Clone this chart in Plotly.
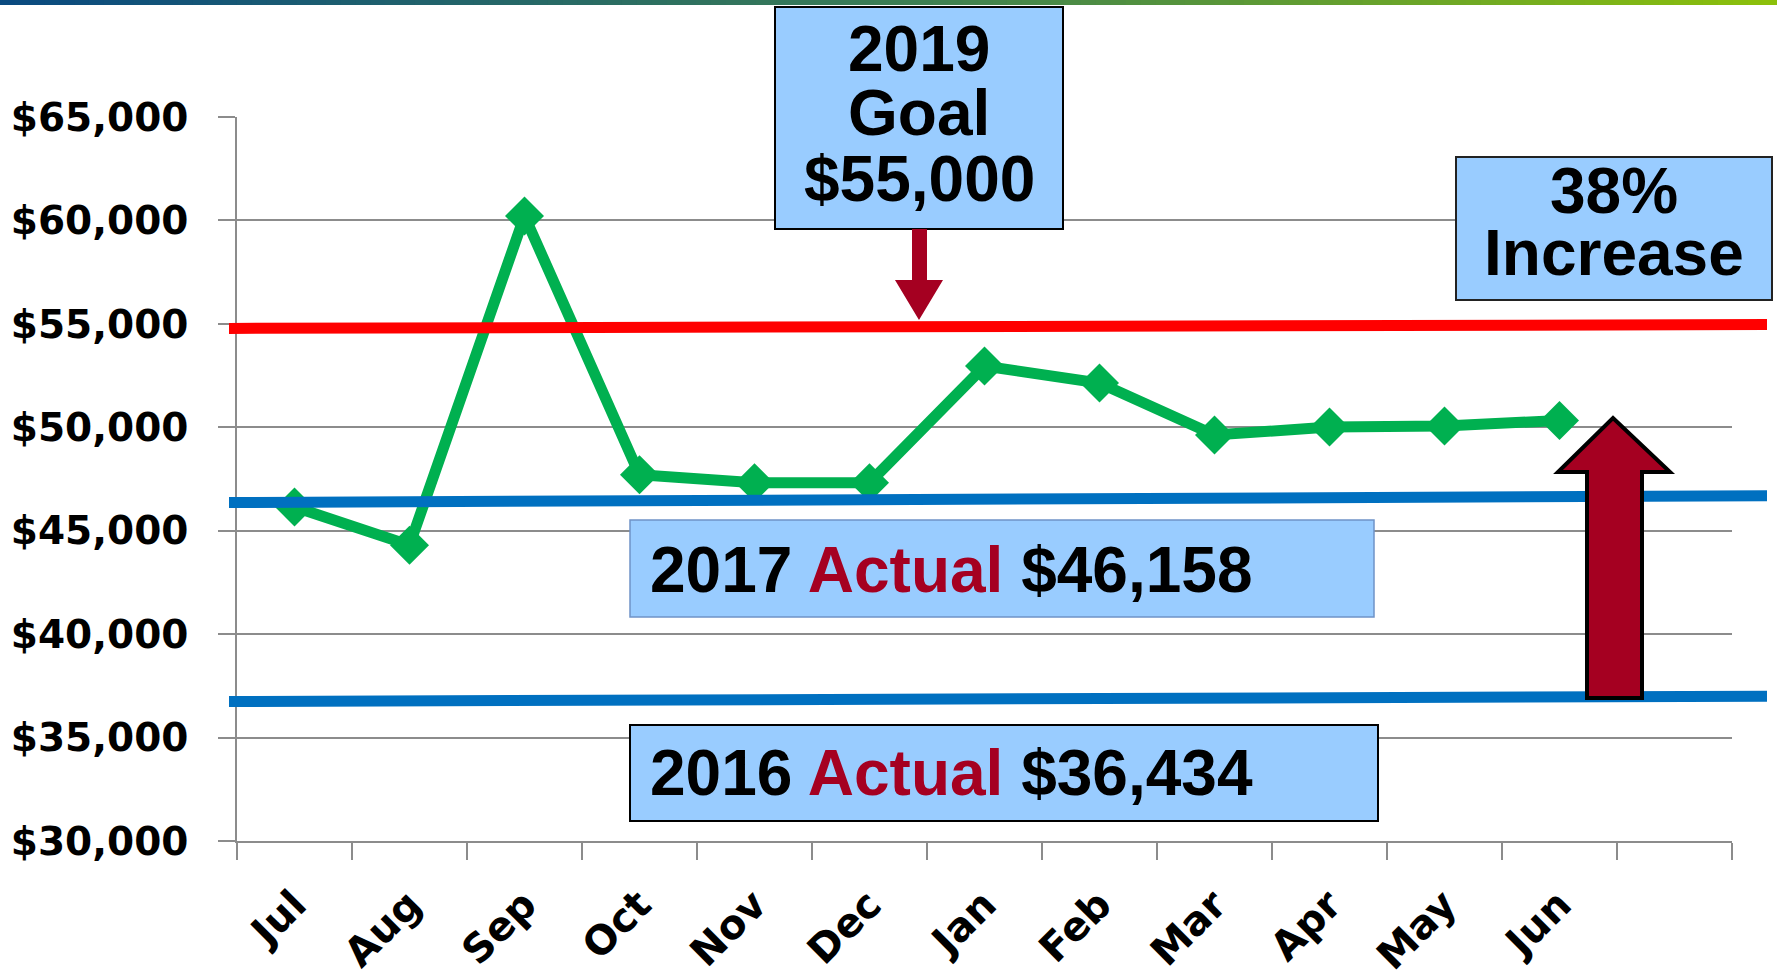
import plotly.graph_objects as go

# ---------------- data ----------------
months = ["Jul", "Aug", "Sep", "Oct", "Nov", "Dec", "Jan", "Feb", "Mar", "Apr", "May", "Jun"]
categories = months + [" "]
monthly_values = [46150, 44300, 60220, 47700, 47320, 47320, 52960, 52140, 49630, 50010, 50060, 50330]

ytick_vals = [30000, 35000, 40000, 45000, 50000, 55000, 60000, 65000]
ytick_text = ["$30,000", "$35,000", "$40,000", "$45,000", "$50,000", "$55,000", "$60,000", "$65,000"]

goal_line = [54780, 54965]        # 2019 goal reference line (left, right)
actual_2017_line = [46364, 46693]  # 2017 actual reference line
actual_2016_line = [36744, 36995]  # 2016 actual reference line

# ---------------- layout geometry ----------------
W, H = 1777, 978
L, R, T, B = 237, 45, 117, 137
PW, PH = W - L - R, H - T - B


def px(xp):
    return (xp - L) / PW


def py(yp):
    return (H - B - yp) / PH


GRID = "#8C8C8C"
DARKRED = "#A50021"
BOXFILL = "#99CCFF"

fig = go.Figure()

fig.add_trace(go.Scatter(
    x=months, y=monthly_values, mode="lines+markers",
    line=dict(color="#00B050", width=11),
    marker=dict(symbol="diamond", size=30, color="#00B050"),
    hoverinfo="x+y", showlegend=False,
))

shapes = []

# top gradient bar
stops = [(0.0, (10, 74, 128)), (0.5, (58, 125, 85)), (1.0, (140, 192, 10))]


def grad(t):
    for (t0, c0), (t1, c1) in zip(stops[:-1], stops[1:]):
        if t0 <= t <= t1:
            f = (t - t0) / (t1 - t0)
            return "rgb(%d,%d,%d)" % tuple(round(a + (b - a) * f) for a, b in zip(c0, c1))
    return "rgb(%d,%d,%d)" % stops[-1][1]


NSEG = 120
for i in range(NSEG):
    x0 = W * i / NSEG
    x1 = W * (i + 1) / NSEG + 1
    shapes.append(dict(type="rect", xref="paper", yref="paper",
                       x0=px(x0), x1=px(x1), y0=py(5), y1=py(0),
                       fillcolor=grad(i / (NSEG - 1)), line=dict(width=0), layer="above"))

# reference lines
for vals, col in [(goal_line, "#FF0000"), (actual_2017_line, "#0070C0"), (actual_2016_line, "#0070C0")]:
    shapes.append(dict(type="line", xref="paper", yref="y",
                       x0=px(229), x1=px(1767), y0=vals[0], y1=vals[1],
                       line=dict(color=col, width=11), layer="above"))


def box(x0, y0, x1, y1, border, bw):
    shapes.append(dict(type="rect", xref="paper", yref="paper",
                       x0=px(x0), x1=px(x1), y0=py(y1), y1=py(y0),
                       fillcolor=BOXFILL, line=dict(color=border, width=bw), layer="above"))


box(775, 7, 1063, 229, "#000000", 2)
box(1456, 157, 1772, 300, "#222222", 2)
box(630, 520, 1374, 617, "#6F93C8", 1.5)
box(630, 725, 1378, 821, "#000000", 2)


def poly(points, fill, lw, lc):
    path = "M " + " L ".join("%.5f,%.5f" % (px(a), py(b)) for a, b in points) + " Z"
    shapes.append(dict(type="path", xref="paper", yref="paper", path=path,
                       fillcolor=fill, line=dict(color=lc, width=lw), layer="above"))


# down arrow from goal box
poly([(912, 229), (927, 229), (927, 280), (943, 280), (919, 320), (895, 280), (912, 280)],
     DARKRED, 0, DARKRED)
# up arrow (increase)
poly([(1587, 698), (1642, 698), (1642, 472), (1670, 472), (1613, 418), (1558, 472), (1587, 472)],
     DARKRED, 4, "#000000")

annotations = []
BIG = dict(family="Liberation Sans, Arial, sans-serif", size=64, color="#000000")


def txt(text, xc, yc, anchor="center", size=64):
    f = dict(BIG)
    f["size"] = size
    annotations.append(dict(text=text, xref="paper", yref="paper", x=px(xc), y=py(yc),
                            xanchor=anchor, yanchor="middle", showarrow=False, font=f))


txt("<b>2019</b>", 919, 49)
txt("<b>Goal</b>", 919, 113)
txt("<b>$55,000</b>", 919, 179)
txt("<b>38%</b>", 1614, 191)
txt("<b>Increase</b>", 1614, 253)
txt("<b>2017 <span style='color:%s'>Actual</span> $46,158</b>" % DARKRED, 648, 570, "left", 64)
txt("<b>2016 <span style='color:%s'>Actual</span> $36,434</b>" % DARKRED, 648, 773, "left", 64)

fig.update_layout(
    width=W, height=H,
    margin=dict(l=L, r=R, t=T, b=B, pad=0, autoexpand=False),
    paper_bgcolor="white", plot_bgcolor="white",
    shapes=shapes, annotations=annotations,
    showlegend=False,
    xaxis=dict(
        type="category", categoryorder="array", categoryarray=categories,
        range=[-0.5, 12.5], tickson="boundaries", automargin=False,
        ticks="outside", ticklen=17, tickwidth=1.5, tickcolor=GRID,
        showline=True, linecolor=GRID, linewidth=2,
        showgrid=False, zeroline=False,
        tickangle=-45, ticklabelstandoff=22,
        tickfont=dict(family="DejaVu Sans, Verdana, sans-serif", size=40, color="black", weight="bold"),
    ),
    yaxis=dict(
        range=[30000, 65000], tickvals=ytick_vals, ticktext=ytick_text, automargin=False,
        ticks="outside", ticklen=17, tickwidth=1.5, tickcolor=GRID,
        showline=True, linecolor=GRID, linewidth=1.5,
        showgrid=True, gridcolor=GRID, gridwidth=1.5, zeroline=False,
        ticklabelstandoff=22,
        tickfont=dict(family="DejaVu Sans, Verdana, sans-serif", size=39, color="black", weight="bold"),
    ),
)

fig.write_html("out.html", config={"displayModeBar": False},
               post_script="document.body.style.margin='0';document.body.style.overflow='hidden';")
